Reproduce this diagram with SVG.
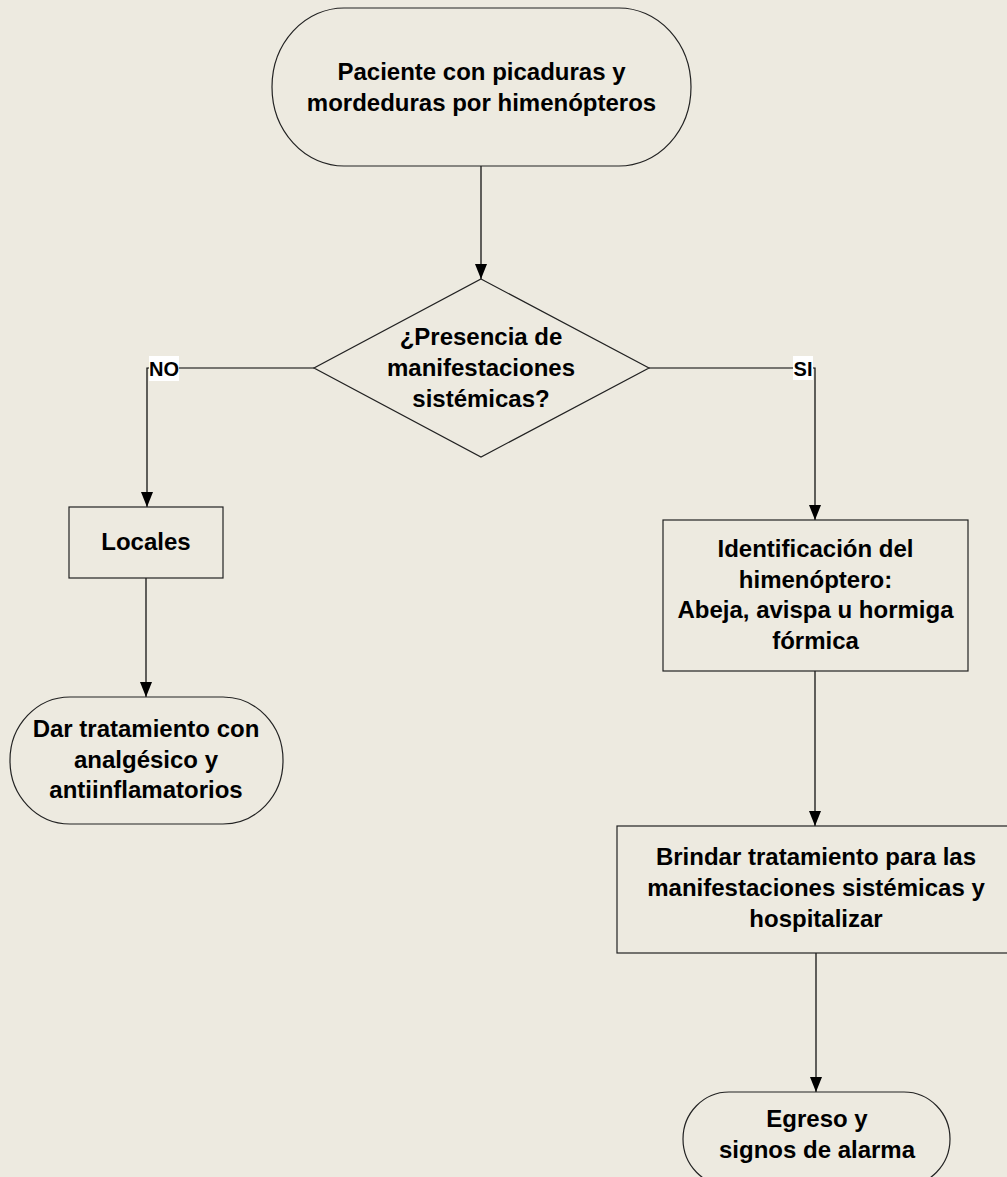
<svg xmlns="http://www.w3.org/2000/svg" width="1007" height="1177" viewBox="0 0 1007 1177">
<defs>
<style>
.shape{fill:#EDEAE0;stroke:#222;stroke-width:1.2}
.t{font-family:"Liberation Sans",Arial,sans-serif;font-weight:bold;font-size:24px;fill:#000;text-anchor:middle}
.lbl{font-family:"Liberation Sans",Arial,sans-serif;font-weight:bold;font-size:20px;fill:#000;text-anchor:middle}
.c{fill:none;stroke:#000;stroke-width:1.2}
</style>
<marker id="arr" markerWidth="15" markerHeight="12" refX="15" refY="6" orient="auto" markerUnits="userSpaceOnUse" viewBox="0 0 15 12">
<path d="M0,0 L15,6 L0,12 Z" fill="#000"/>
</marker>
</defs>
<rect x="0" y="0" width="1007" height="1177" fill="#EDEAE0"/>

<g id="connectors">
<path class="c" d="M481,166 V279" marker-end="url(#arr)"/>
<path class="c" d="M314,368 H147 V507" marker-end="url(#arr)"/>
<path class="c" d="M649,368 H815 V520" marker-end="url(#arr)"/>
<path class="c" d="M146,578 V697" marker-end="url(#arr)"/>
<path class="c" d="M815,671 V826" marker-end="url(#arr)"/>
<path class="c" d="M816,953 V1092" marker-end="url(#arr)"/>
<g id="label-no">
<rect x="149" y="356" width="30" height="25" fill="#fff"/>
<text class="lbl" x="164" y="376">NO</text>
</g>
<g id="label-si">
<rect x="793" y="356" width="20" height="24" fill="#fff"/>
<text class="lbl" x="803" y="376">SI</text>
</g>
</g>

<g id="start">
<rect class="shape" x="272" y="8" width="419" height="158" rx="72" ry="79"/>
<text class="t" x="481.5" y="80">Paciente con picaduras y</text>
<text class="t" x="481.5" y="111">mordeduras por himenópteros</text>
</g>

<g id="decision">
<polygon class="shape" points="481,279 649,368 481,457 314,368"/>
<text class="t" x="481" y="345">¿Presencia de</text>
<text class="t" x="481" y="376">manifestaciones</text>
<text class="t" x="481" y="407">sistémicas?</text>
</g>

<g id="locales">
<rect class="shape" x="69" y="507" width="154" height="71"/>
<text class="t" x="146" y="550">Locales</text>
</g>

<g id="tratamiento-local">
<rect class="shape" x="10" y="697" width="273" height="127" rx="60" ry="63"/>
<text class="t" x="146" y="737">Dar tratamiento con</text>
<text class="t" x="146" y="768">analgésico y</text>
<text class="t" x="146" y="798">antiinflamatorios</text>
</g>

<g id="identificacion">
<rect class="shape" x="663" y="520" width="305" height="151"/>
<text class="t" x="815.5" y="557">Identificación del</text>
<text class="t" x="815.5" y="588">himenóptero:</text>
<text class="t" x="815.5" y="618">Abeja, avispa u hormiga</text>
<text class="t" x="815.5" y="649">fórmica</text>
</g>

<g id="brindar">
<rect class="shape" x="617" y="826" width="400" height="127"/>
<text class="t" x="816" y="865">Brindar tratamiento para las</text>
<text class="t" x="816" y="896">manifestaciones sistémicas y</text>
<text class="t" x="816" y="927">hospitalizar</text>
</g>

<g id="egreso">
<rect class="shape" x="683" y="1092" width="267" height="94" rx="46" ry="47"/>
<text class="t" x="817" y="1127">Egreso y</text>
<text class="t" x="817" y="1158">signos de alarma</text>
</g>
</svg>
